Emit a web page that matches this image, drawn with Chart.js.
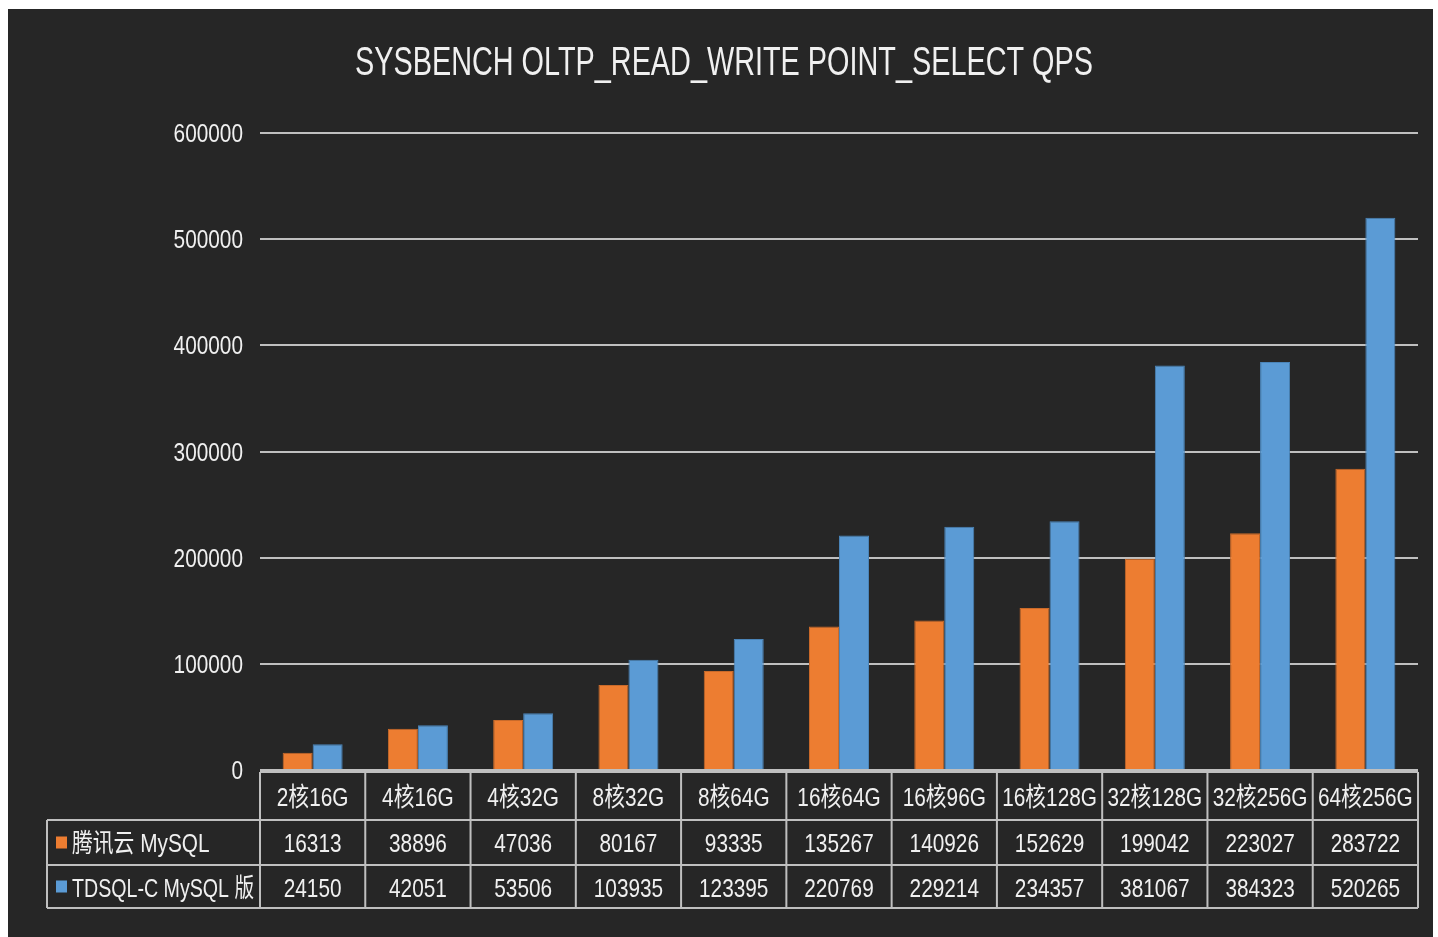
<!DOCTYPE html>
<html>
<head>
<meta charset="utf-8">
<script src="https://cdn.jsdelivr.net/npm/chart.js@4.4.1/dist/chart.umd.min.js"></script>
<style>
  html, body { margin: 0; padding: 0; background: #fff; }
  #box { position: absolute; left: 8px; top: 9px; width: 1425px; height: 928px; background: #262626; }
</style>
</head>
<body>
<div id="box"><canvas id="chart" width="1425" height="928"></canvas></div>
<script>
const title = "SYSBENCH OLTP_READ_WRITE POINT_SELECT QPS";
const categories = ["2核16G", "4核16G", "4核32G", "8核32G", "8核64G", "16核64G", "16核96G", "16核128G", "32核128G", "32核256G", "64核256G"];
const seriesNames = ["腾讯云 MySQL", "TDSQL-C MySQL 版"];
const tencentMysql = [16313, 38896, 47036, 80167, 93335, 135267, 140926, 152629, 199042, 223027, 283722];
const tdsqlC = [24150, 42051, 53506, 103935, 123395, 220769, 229214, 234357, 381067, 384323, 520265];
const yTicks = [0, 100000, 200000, 300000, 400000, 500000, 600000];

const ORANGE = "#ED7D31";
const BLUE = "#5B9BD5";
const TEXT = "#f0f0f0";
const LINE = "#bfbfbf";
const FONT = "'Liberation Sans', 'Noto Sans CJK SC', sans-serif";
const SX = 0.8; // squeeze text sideways, the original font is a narrow one

// text squeezed horizontally around its anchor x
function narrowText(ctx, s, x, y, align, maxW) {
  ctx.save();
  ctx.translate(x, y);
  ctx.scale(SX, 1);
  ctx.textAlign = align;
  if (maxW) ctx.fillText(s, 0, 0, maxW / SX);
  else ctx.fillText(s, 0, 0);
  ctx.restore();
}

// title, y tick labels and the data table under the plot
const tablePlugin = {
  id: "dataTable",
  afterDraw(chart) {
    const ctx = chart.ctx;
    const area = chart.chartArea;
    const xs = chart.scales.x;
    const ys = chart.scales.y;
    const step = (area.right - area.left) / categories.length;
    const rowTop = area.bottom + 2;
    const rows = [rowTop, rowTop + 48, rowTop + 93, rowTop + 136];
    const legendLeft = 39;
    const series = [tencentMysql, tdsqlC];
    const colors = [ORANGE, BLUE];

    ctx.save();
    ctx.fillStyle = TEXT;
    ctx.textBaseline = "alphabetic";

    // title, fitted to the width it has in the original
    ctx.font = "41px " + FONT;
    const w = ctx.measureText(title).width;
    ctx.save();
    ctx.translate(716, 66);
    ctx.scale(738 / w, 1);
    ctx.textAlign = "center";
    ctx.fillText(title, 0, 0);
    ctx.restore();

    // y tick labels
    ctx.font = "26px " + FONT;
    yTicks.forEach(v => {
      narrowText(ctx, String(v), area.left - 17, ys.getPixelForValue(v) + 9, "right");
    });

    // grid of the table
    ctx.strokeStyle = LINE;
    ctx.lineWidth = 2;
    ctx.beginPath();
    ctx.moveTo(area.left, rows[0]); ctx.lineTo(area.right, rows[0]);
    for (let r = 1; r < rows.length; r++) {
      ctx.moveTo(legendLeft, rows[r]); ctx.lineTo(area.right, rows[r]);
    }
    ctx.moveTo(legendLeft, rows[1]); ctx.lineTo(legendLeft, rows[3]);
    for (let i = 0; i <= categories.length; i++) {
      const x = area.left + i * step;
      ctx.moveTo(x, rows[0]); ctx.lineTo(x, rows[3]);
    }
    ctx.stroke();

    // category labels + values
    categories.forEach((c, i) => {
      const x = xs.getPixelForValue(i);
      narrowText(ctx, c, x, rows[0] + 34, "center", step - 6);
      series.forEach((s, k) => {
        narrowText(ctx, String(s[i]), x, rows[k + 1] + 32, "center");
      });
    });

    // legend keys
    seriesNames.forEach((n, k) => {
      const cy = (rows[k + 1] + rows[k + 2]) / 2;
      ctx.fillStyle = colors[k];
      ctx.fillRect(legendLeft + 9, cy - 6, 11, 12);
      ctx.fillStyle = TEXT;
      narrowText(ctx, n, legendLeft + 25, rows[k + 1] + 32, "left", area.left - legendLeft - 31);
    });
    ctx.restore();
  }
};

new Chart(document.getElementById("chart"), {
  type: "bar",
  data: {
    labels: categories,
    datasets: [
      { label: seriesNames[0], data: tencentMysql, backgroundColor: ORANGE, borderColor: "#c96a2a", borderWidth: 1 },
      { label: seriesNames[1], data: tdsqlC, backgroundColor: BLUE, borderColor: "#4a84b8", borderWidth: 1 }
    ]
  },
  options: {
    responsive: false,
    animation: false,
    events: [],
    layout: { padding: { top: 124, right: 15, bottom: 167, left: 0 } },
    datasets: { bar: { categoryPercentage: 0.57, barPercentage: 1 } },
    scales: {
      x: {
        display: false
      },
      y: {
        min: yTicks[0],
        max: yTicks[yTicks.length - 1],
        afterBuildTicks(scale) { scale.ticks = yTicks.map(v => ({ value: v })); },
        afterFit(scale) { scale.width = 252; },
        ticks: { display: false },
        grid: { color: LINE, lineWidth: 2, drawTicks: false },
        border: { display: false }
      }
    },
    plugins: {
      legend: { display: false },
      tooltip: { enabled: false },
      title: { display: false }
    }
  },
  plugins: [tablePlugin]
});
</script>
</body>
</html>
